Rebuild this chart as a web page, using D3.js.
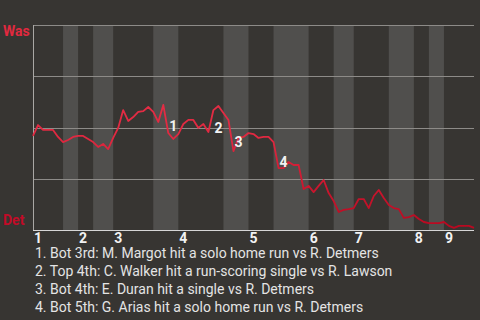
<!DOCTYPE html>
<html>
<head>
<meta charset="utf-8">
<script src="https://cdn.jsdelivr.net/npm/d3@7"></script>
<style>
    html, body { margin: 0; padding: 0; background: #373532; }
    svg { display: block; font-family: Roboto, "Noto Sans", sans-serif; }
</style>
</head>
<body>
<svg id="chart" width="480" height="320"></svg>
<script>
// Washington win probability after each plate appearance (0 = Det wins, 1 = Was wins)
const winProb = [
    0.459, 0.512, 0.488, 0.488, 0.488, 0.454, 0.429, 0.439, 0.454, 0.459,
    0.459, 0.444, 0.429, 0.405, 0.420, 0.395, 0.449, 0.498, 0.585, 0.532,
    0.551, 0.576, 0.580, 0.600, 0.576, 0.527, 0.610, 0.473, 0.444, 0.468,
    0.517, 0.537, 0.537, 0.498, 0.517, 0.478, 0.585, 0.605, 0.571, 0.537,
    0.385, 0.449, 0.454, 0.473, 0.468, 0.449, 0.454, 0.454, 0.429, 0.302,
    0.302, 0.332, 0.317, 0.317, 0.200, 0.215, 0.185, 0.215, 0.244, 0.180,
    0.141, 0.088, 0.098, 0.102, 0.107, 0.151, 0.151, 0.107, 0.166, 0.195,
    0.156, 0.122, 0.107, 0.102, 0.059, 0.063, 0.073, 0.054, 0.039, 0.034,
    0.034, 0.034, 0.039, 0.020, 0.010, 0.020, 0.020, 0.020, 0.010
];

// plate appearance index where each half inning starts (top 1 .. top 9, then end)
const halfInningStarts = [0, 6, 9, 12, 16, 24, 29, 38, 43, 48, 55, 60, 64, 71, 76, 79, 82, 88];
const inningLabels = ["1", "2", "3", "4", "5", "6", "7", "8", "9"];

const gridValues = [0.25, 0.5, 0.75, 1];
const teams = ["Was", "Det"];

// key plays: index of the plate appearance and its caption
const eventIndex = [27, 36, 40, 49];
const eventText = [
    "Bot 3rd: M. Margot hit a solo home run vs R. Detmers",
    "Top 4th: C. Walker hit a run-scoring single vs R. Lawson",
    "Bot 4th: E. Duran hit a single vs R. Detmers",
    "Bot 5th: G. Arias hit a solo home run vs R. Detmers"
];

const WAS_RED = "#e2293f";
const DET_RED = "#c20b27";

const _svg = document.getElementById("chart");
const width = 480;
const height = 320;

const leftX = 33;
const rightX = 474;
const upperY = 25;
const lowerY = 230;

const svg = d3.select(_svg);

const translate = (x, y) => {
    return "translate(" + String(x) + "," + String(y) + ")"
}

const xScale = d3.scaleLinear().domain([0, winProb.length - 1]).range([leftX, rightX]);
const yScale = d3.scaleLinear().domain([0, 1]).range([lowerY, upperY]);

svg.append("rect")
    .attr("width", width)
    .attr("height", height)
    .attr("fill", "#373532");

// shaded bands for the bottom halves
const bands = [];
for (let i = 1; i < halfInningStarts.length - 1; i += 2) {
    bands.push([halfInningStarts[i], halfInningStarts[i + 1]]);
}

svg.append("g").attr("class", "bands")
    .selectAll("rect")
    .data(bands)
    .enter()
    .append("rect")
    .attr("x", d => xScale(d[0]))
    .attr("width", d => xScale(d[1]) - xScale(d[0]))
    .attr("y", yScale(1))
    .attr("height", yScale(0) - yScale(1))
    .attr("fill", "#504f4d");

svg.append("g").attr("class", "grid")
    .selectAll("line")
    .data(gridValues)
    .enter()
    .append("line")
    .attr("x1", leftX)
    .attr("x2", rightX)
    .attr("y1", d => Math.round(yScale(d)) + 0.5)
    .attr("y2", d => Math.round(yScale(d)) + 0.5)
    .attr("stroke", "#8d8b88")
    .attr("stroke-width", 1);

// left and bottom axis lines
svg.append("line")
    .attr("x1", leftX + 0.5).attr("x2", leftX + 0.5)
    .attr("y1", yScale(1)).attr("y2", yScale(0))
    .attr("stroke", "#a9a7a4");

const xAxis = svg.append("g")
    .attr("class", "xaxis")
    .attr("transform", translate(0, lowerY + 0.5));

xAxis.append("line")
    .attr("x1", leftX).attr("x2", rightX)
    .attr("stroke", "#d6d6d6");

xAxis.selectAll("text")
    .data(inningLabels)
    .enter()
    .append("text")
    .attr("x", (d, i) => xScale(halfInningStarts[i * 2]) + 1)
    .attr("y", 12.5)
    .attr("fill", "#f2f2f2")
    .style("font-size", "14px")
    .style("font-weight", "bold")
    .text(d => d);

// team labels
svg.selectAll("text.team")
    .data(teams)
    .enter()
    .append("text")
    .attr("class", "team")
    .attr("x", 3)
    .attr("y", (d, i) => i === 0 ? yScale(1) + 11 : yScale(0) - 5)
    .attr("fill", (d, i) => i === 0 ? WAS_RED : DET_RED)
    .style("font-size", "14px")
    .style("font-weight", "bold")
    .text(d => d);

// line colour fades from Was red at the top to Det red at the bottom
const gradient = svg.append("defs")
    .append("linearGradient")
    .attr("id", "wpGradient")
    .attr("gradientUnits", "userSpaceOnUse")
    .attr("x1", 0).attr("x2", 0)
    .attr("y1", yScale(1)).attr("y2", yScale(0));
gradient.append("stop").attr("offset", "0%").attr("stop-color", "#f0354e");
gradient.append("stop").attr("offset", "55%").attr("stop-color", "#e02840");
gradient.append("stop").attr("offset", "100%").attr("stop-color", "#b8071f");

const line = d3.line()
    .x((d, i) => xScale(i))
    .y(d => yScale(d));

svg.append("path")
    .datum(winProb)
    .attr("d", line)
    .attr("fill", "none")
    .attr("stroke", "url(#wpGradient)")
    .attr("stroke-width", 1.8)
    .attr("stroke-linejoin", "round");

// numbered markers next to the key plays
svg.append("g").attr("class", "events")
    .selectAll("text")
    .data(eventIndex)
    .enter()
    .append("text")
    .attr("x", d => xScale(d) + 1)
    .attr("y", d => (yScale(winProb[d - 1]) + yScale(winProb[d])) / 2 + 12)
    .attr("fill", "#f2f2f2")
    .style("font-size", "14px")
    .style("font-weight", "bold")
    .text((d, i) => String(i + 1));

svg.append("g").attr("class", "captions")
    .selectAll("text")
    .data(eventText)
    .enter()
    .append("text")
    .attr("x", 35)
    .attr("y", (d, i) => 258 + i * 18)
    .attr("fill", "#e4e4e4")
    .style("font-size", "14px")
    .text((d, i) => String(i + 1) + ". " + d);
</script>
</body>
</html>
